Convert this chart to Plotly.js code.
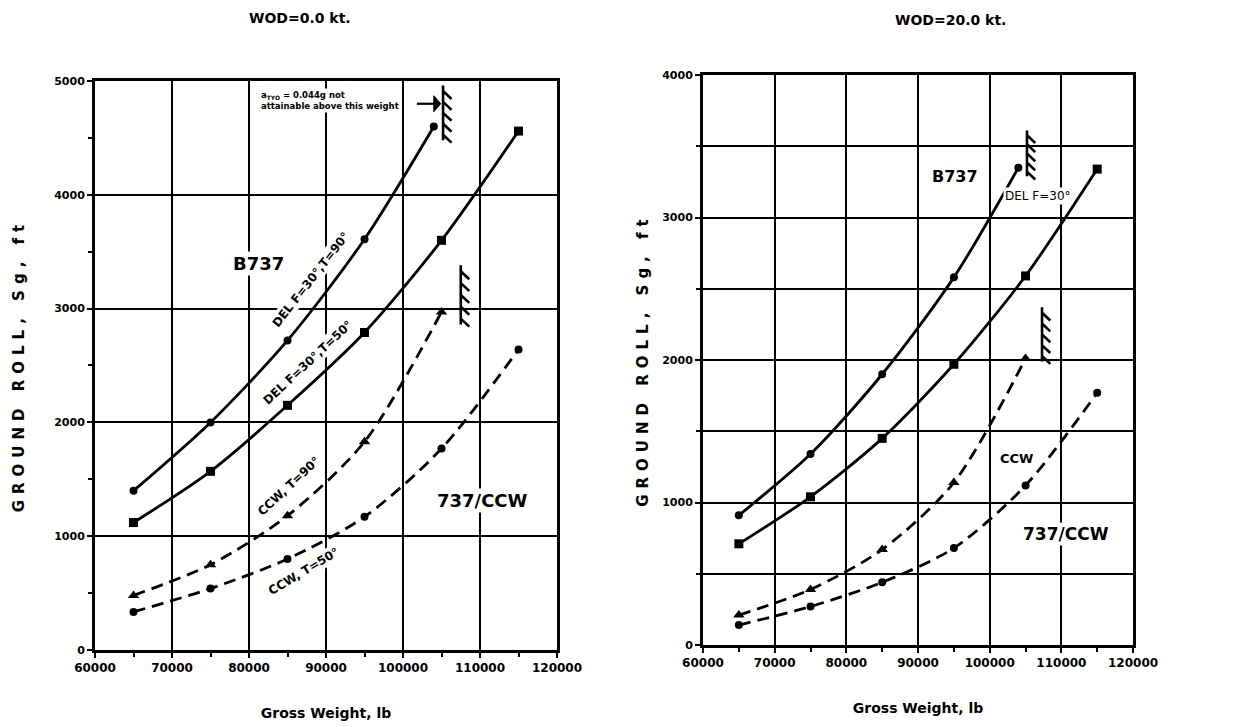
<!DOCTYPE html>
<html>
<head>
<meta charset="utf-8">
<script src="https://cdn.plot.ly/plotly-3.0.1.min.js"></script>
<style>
  html, body { margin: 0; padding: 0; background: #ffffff; }
  #chart { width: 1252px; height: 727px; }
  .ytitle, .y2title { letter-spacing: 6px; }
</style>
</head>
<body>
<div id="chart"></div>
<script>
// ---------------- Data ----------------
// Left panel: WOD = 0.0 kt
const weightsL_delT90 = [65000, 75000, 85000, 95000, 104000];
const rollL_delT90    = [1400, 2000, 2720, 3610, 4600];

const weightsL_delT50 = [65000, 75000, 85000, 95000, 105000, 115000];
const rollL_delT50    = [1120, 1570, 2150, 2790, 3600, 4560];

const weightsL_ccwT90 = [65000, 75000, 85000, 95000, 105000];
const rollL_ccwT90    = [480, 750, 1180, 1830, 2970];

const weightsL_ccwT50 = [65000, 75000, 85000, 95000, 105000, 115000];
const rollL_ccwT50    = [335, 540, 800, 1170, 1770, 2640];

// Right panel: WOD = 20.0 kt
const weightsR_b737 = [65000, 75000, 85000, 95000, 104000];
const rollR_b737    = [910, 1340, 1900, 2580, 3350];

const weightsR_del  = [65000, 75000, 85000, 95000, 105000, 115000];
const rollR_del     = [710, 1040, 1450, 1970, 2590, 3340];

const weightsR_ccw  = [65000, 75000, 85000, 95000, 105000];
const rollR_ccw     = [210, 390, 670, 1140, 2010];

const weightsR_737ccw = [65000, 75000, 85000, 95000, 105000, 115000];
const rollR_737ccw    = [140, 270, 440, 680, 1120, 1770];

// Tick labels
const xTickVals = [60000, 70000, 80000, 90000, 100000, 110000, 120000];
const xTickText = ["60000", "70000", "80000", "90000", "100000", "110000", "120000"];
const yTickValsL = [0, 1000, 2000, 3000, 4000, 5000];
const yTickTextL = ["0", "1000", "2000", "3000", "4000", "5000"];
const yTickValsR = [0, 1000, 2000, 3000, 4000];
const yTickTextR = ["0", "1000", "2000", "3000", "4000"];

// ---------------- Styling ----------------
const FONT = "DejaVu Sans, Liberation Sans, Arial, sans-serif";
const INK = "#000000";

function series(x, y, xa, ya, dashed, symbol, name) {
  return {
    type: "scatter", mode: "lines+markers", name: name,
    x: x, y: y, xaxis: xa, yaxis: ya,
    line: { color: INK, width: 2.8, shape: "spline", smoothing: 0.8, dash: dashed ? "12px,7px" : "solid" },
    marker: { color: INK, size: symbol === "square" ? 9 : (symbol === "triangle-up" ? 10 : 8), symbol: symbol },
    showlegend: false, hoverinfo: "x+y"
  };
}

const traces = [
  series(weightsL_delT90, rollL_delT90, "x", "y", false, "circle", "DEL F=30°,T=90°"),
  series(weightsL_delT50, rollL_delT50, "x", "y", false, "square", "DEL F=30°,T=50°"),
  series(weightsL_ccwT90, rollL_ccwT90, "x", "y", true, "triangle-up", "CCW, T=90°"),
  series(weightsL_ccwT50, rollL_ccwT50, "x", "y", true, "circle", "CCW, T=50°"),
  series(weightsR_b737, rollR_b737, "x2", "y2", false, "circle", "B737"),
  series(weightsR_del, rollR_del, "x2", "y2", false, "square", "DEL F=30°"),
  series(weightsR_ccw, rollR_ccw, "x2", "y2", true, "triangle-up", "CCW"),
  series(weightsR_737ccw, rollR_737ccw, "x2", "y2", true, "circle", "737/CCW")
];

function xAxis(domain, anchor) {
  return {
    domain: domain, anchor: anchor, range: [60000, 120000],
    tickmode: "array", tickvals: xTickVals, ticktext: xTickText,
    ticks: "outside", ticklen: 5, tickwidth: 2, tickcolor: INK,
    minor: { dtick: 5000, ticks: "outside", ticklen: 4, tickwidth: 2, tickcolor: INK, showgrid: false },
    showgrid: true, gridcolor: INK, gridwidth: 2,
    showline: true, linecolor: INK, linewidth: 3, mirror: true,
    zeroline: false,
    tickfont: { family: FONT, size: 12, color: INK, weight: "bold" },
    title: { text: "Gross Weight, lb", font: { family: FONT, size: 14, color: INK, weight: "bold" }, standoff: 34 }
  };
}

function yAxis(domain, anchor, range, vals, text, minorGrid, standoff) {
  return {
    domain: domain, anchor: anchor, range: range,
    tickmode: "array", tickvals: vals, ticktext: text,
    ticks: "outside", ticklen: 5, tickwidth: 2, tickcolor: INK,
    minor: { dtick: 500, ticks: "outside", ticklen: 4, tickwidth: 2, tickcolor: INK,
             showgrid: minorGrid, gridcolor: INK, gridwidth: 2 },
    showgrid: true, gridcolor: INK, gridwidth: 2,
    showline: true, linecolor: INK, linewidth: 3, mirror: true,
    zeroline: false,
    tickfont: { family: FONT, size: 11, color: INK, weight: "bold" },
    title: { text: "GROUND ROLL, Sg, ft", font: { family: FONT, size: 15, color: INK, weight: "bold" }, standoff: standoff }
  };
}

// hatch mark ("limit") helper: vertical bar with short slanted ticks
function hatch(xref, yref, x, y0, y1, n, dx, dy) {
  let p = `M ${x} ${y0} L ${x} ${y1}`;
  for (let i = 0; i < n; i++) {
    const y = y1 - (i + 0.5) * (y1 - y0) / n;
    p += ` M ${x} ${y} L ${x + dx} ${y - dy}`;
  }
  return { type: "path", xref: xref, yref: yref, path: p, line: { color: INK, width: 2.6 } };
}

const shapes = [
  hatch("x", "y", 105200, 4480, 4960, 5, 1100, 70),
  hatch("x", "y", 107500, 2860, 3380, 5, 1100, 70),
  hatch("x2", "y2", 105200, 3290, 3610, 5, 1150, 55),
  hatch("x2", "y2", 107300, 1990, 2370, 5, 1150, 55),
  // arrow from the note to the limit mark
  { type: "path", xref: "x", yref: "y", path: "M 101800 4800 L 104700 4800", line: { color: INK, width: 2.2 } },
  { type: "path", xref: "x", yref: "y", path: "M 104000 4870 L 104900 4800 L 104000 4730 Z", fillcolor: INK, line: { color: INK, width: 1 } }
];

function txt(xref, yref, x, y, text, size, angle, weight, bg) {
  return {
    xref: xref, yref: yref, x: x, y: y, text: text, showarrow: false,
    xanchor: "center", yanchor: "middle",
    textangle: angle || 0, bgcolor: bg || "rgba(0,0,0,0)", borderpad: 1,
    font: { family: FONT, size: size, color: INK, weight: weight || "bold" }
  };
}

const annotations = [
  // panel titles
  txt("paper", "paper", 0.240, 0.975, "WOD=0.0 kt.", 14, 0),
  txt("paper", "paper", 0.759, 0.972, "WOD=20.0 kt.", 14, 0),
  // left panel labels
  txt("x", "y", 81200, 3400, "B737", 18, 0, "bold", "#ffffff"),
  txt("x", "y", 110300, 1310, "737/CCW", 18, 0, "bold", "#ffffff"),
  txt("x", "y", 88000, 3250, "DEL F=30°,T=90°", 12, -52, "bold", "#ffffff"),
  txt("x", "y", 87600, 2520, "DEL F=30°,T=50°", 12, -43, "bold", "#ffffff"),
  txt("x", "y", 85200, 1440, "CCW, T=90°", 12, -43, "bold", "#ffffff"),
  txt("x", "y", 87200, 690, "CCW, T=50°", 12, -31, "bold", "#ffffff"),
  {
    xref: "x", yref: "y", x: 81300, y: 4830, xanchor: "left", yanchor: "middle",
    text: "a<sub>TYO</sub> = 0.044g not<br>attainable above this weight", showarrow: false, align: "left",
    font: { family: FONT, size: 8.5, color: INK, weight: "bold" }, bgcolor: "#ffffff"
  },
  // right panel labels
  txt("x2", "y2", 95200, 3290, "B737", 16, 0),
  txt("x2", "y2", 106700, 3150, "DEL F=30°", 12, 0, "normal", "#ffffff"),
  txt("x2", "y2", 103700, 1310, "CCW", 13, 0, "bold", "#ffffff"),
  txt("x2", "y2", 110700, 780, "737/CCW", 17, 0, "bold", "#ffffff")
];

const layout = {
  width: 1252, height: 727,
  margin: { l: 0, r: 0, t: 0, b: 0 },
  paper_bgcolor: "#ffffff", plot_bgcolor: "#ffffff",
  showlegend: false,
  font: { family: FONT, color: INK },
  xaxis: xAxis([0.0759, 0.4449], "y"),
  yaxis: yAxis([0.1059, 0.8886], "x", [0, 5000], yTickValsL, yTickTextL, false, 26),
  xaxis2: xAxis([0.5615, 0.9050], "y2"),
  yaxis2: yAxis([0.1128, 0.8968], "x2", [0, 4000], yTickValsR, yTickTextR, true, 10),
  shapes: shapes,
  annotations: annotations
};

Plotly.newPlot("chart", traces, layout, { displayModeBar: false, staticPlot: true });
</script>
</body>
</html>
